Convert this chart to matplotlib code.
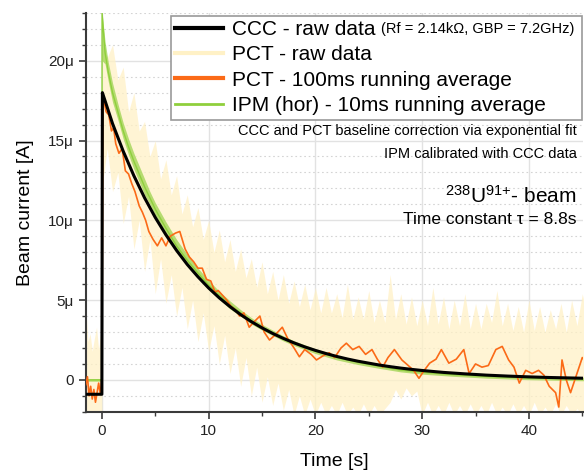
import numpy as np
import matplotlib
matplotlib.use('Agg')
import matplotlib.pyplot as plt
from matplotlib.lines import Line2D
from matplotlib.ticker import MultipleLocator, FuncFormatter

plt.rcParams['font.family'] = ['Liberation Sans', 'DejaVu Sans']
plt.rcParams['mathtext.fontset'] = 'custom'
plt.rcParams['mathtext.rm'] = 'Liberation Sans'
plt.rcParams['mathtext.it'] = 'Liberation Sans:italic'

# all currents in microampere
# CCC raw data
t_ccc = [-1.5, 0.0, 0.05, 1, 2, 3, 4, 5, 6, 7, 8, 9, 10, 11, 12, 13, 14, 15, 16, 17, 18, 19, 20,
         21, 22, 23, 24, 25, 26, 27, 28, 29, 30, 32, 34, 36, 38, 40, 42, 44, 45.5]
ccc = [-0.9, -0.9, 18.0, 16.06, 14.33, 12.79, 11.41, 10.18, 9.09, 8.11, 7.23, 6.46, 5.76, 5.14,
       4.59, 4.09, 3.65, 3.26, 2.91, 2.60, 2.32, 2.07, 1.85, 1.65, 1.47, 1.31, 1.17, 1.05, 0.93,
       0.83, 0.74, 0.66, 0.59, 0.47, 0.38, 0.30, 0.24, 0.19, 0.15, 0.12, 0.10]

# PCT raw data, drawn as its spread (upper / lower edge)
t_raw_pre = [-1.5, -1.3, -1.1, -0.9, -0.7, -0.5, -0.3, -0.1, 0.0]
raw_hi_pre = [4.5, 2.4, 2.9, 1.8, 2.6, 3.3, 1.9, 3.0, 2.0]
raw_lo_pre = [-2.2, -2.2, -2.2, -2.2, -2.2, -2.2, -2.2, -2.2, -2.2]
t_raw = np.arange(0, 45.6, 0.5)
raw_hi = [21.5, 20.2, 21.0, 18.8, 19.6, 16.8, 18.0, 15.6, 16.2, 14.0,
          15.0, 12.6, 13.8, 11.6, 12.8, 10.4, 11.6, 9.6, 10.8, 8.8,
          10.0, 8.0, 9.4, 7.4, 8.8, 6.8, 8.2, 6.4, 7.6, 5.8,
          7.4, 5.4, 6.8, 5.0, 6.6, 4.8, 6.2, 4.6, 6.0, 4.4,
          5.8, 4.2, 5.8, 4.2, 5.4, 3.9, 6.0, 3.8, 5.2, 3.8,
          5.6, 3.6, 5.0, 3.6, 6.6, 3.8, 5.4, 3.5, 5.2, 3.4,
          5.0, 3.4, 5.8, 3.5, 5.2, 3.2, 5.0, 3.4, 5.4, 3.2,
          4.8, 3.2, 4.8, 3.6, 5.6, 3.4, 4.8, 3.1, 4.6, 3.0,
          5.0, 3.1, 4.6, 3.0, 4.4, 3.2, 4.8, 3.0, 5.0, 3.4,
          5.4, 3.8]
raw_lo = [12.0, 14.5, 11.8, 13.0, 9.8, 11.5, 8.2, 10.0, 6.8, 8.8,
          5.4, 7.6, 4.8, 6.6, 4.0, 5.8, 3.2, 5.0, 2.4, 4.2,
          1.8, 3.4, 1.0, 2.8, 0.4, 2.0, -0.4, 1.4, -1.0, 0.8,
          -1.4, 0.2, -1.6, -0.2, -1.9, -0.6, -2.2, -1.0, -2.2, -1.2,
          -2.2, -1.4, -2.2, -1.6, -2.2, -1.4, -2.2, -1.7, -2.2, -1.5,
          -2.2, -1.6, -2.2, -1.8, -1.4, -0.6, -1.2, -0.5, -1.0, -0.7,
          -2.2, -1.4, -2.2, -1.6, -2.2, -1.4, -2.2, -1.6, -2.2, -1.5,
          -2.2, -1.6, -2.2, -1.4, -2.2, -1.7, -2.2, -1.5, -2.2, -1.6,
          -2.2, -1.4, -2.2, -1.7, -2.2, -1.5, -2.2, -1.6, -2.2, -1.8,
          -2.2, -2.0]

# PCT 100ms running average
t_avg = [-1.5, -1.35, -1.2, -1.05, -0.9, -0.75, -0.6, -0.45, -0.3, -0.15, 0.0,
         0.1, 0.4, 0.65, 0.9, 1.1, 1.3, 1.6, 1.9, 2.2, 2.5, 2.8, 3.1, 3.5, 3.8, 4.1, 4.4,
         4.8, 5.2, 5.6, 6.0, 6.4, 6.9, 7.3, 7.8, 8.2, 8.6, 9.0, 9.4, 9.8, 10.2, 10.6,
         10.9, 11.3, 11.7, 12.1, 12.5, 12.9, 13.3, 13.8, 14.2, 14.8, 15.2, 15.7, 16.2,
         16.9, 17.4, 18.0, 18.5, 19.0, 19.6, 20.1, 20.7, 21.3, 21.8, 22.4, 22.9, 23.5,
         24.1, 24.7, 25.3, 25.8, 26.3, 26.8, 27.4, 28.1, 28.7, 29.2, 29.7, 30.2, 30.7,
         31.3, 31.8, 32.5, 33.2, 33.9, 34.4, 35.0, 35.6, 36.2, 36.9, 37.5, 38.1, 38.6,
         39.1, 39.7, 40.3, 40.9, 41.4, 41.9, 42.5, 42.8, 43.1, 43.5, 43.9, 44.4, 45.0, 45.5]
pct_avg = [-0.3, 0.2, -1.0, -0.4, -1.2, -0.6, -1.4, -0.8, -0.2, -0.9, 0.1,
           17.8, 16.8, 16.6, 15.6, 15.8, 14.8, 14.2, 14.5, 13.1, 12.9, 12.3, 11.8, 10.9, 10.5,
           10.0, 9.3, 8.8, 8.4, 8.9, 8.4, 9.0, 9.2, 9.3, 8.2, 7.7, 7.4, 7.0, 7.0, 6.3, 6.2,
           5.5, 5.6, 5.3, 5.0, 4.6, 4.4, 4.0, 4.2, 3.3, 3.6, 4.0, 3.0, 2.5, 2.8, 3.3, 2.6,
           2.0, 1.45, 1.9, 1.6, 1.25, 1.5, 1.7, 1.4, 2.0, 2.3, 1.9, 2.1, 1.6, 1.9, 1.3, 0.8,
           1.4, 1.9, 1.25, 0.9, 0.6, 0.1, 0.6, 1.05, 1.3, 1.9, 1.05, 1.3, 1.9, 0.4, 1.0, 0.8,
           0.9, 1.9, 2.1, 1.25, 0.8, -0.2, 0.6, 0.4, 0.6, 0.3, -0.4, -0.8, -1.7, 1.25, 0.0,
           -0.8, 0.2, 1.4, 1.0]

# IPM (hor) 10ms running average, centre and spread
t_ipm = [-1.5, 0.0, 0.02, 0.3, 0.6, 1, 1.5, 2, 2.5, 3, 3.5, 4, 4.5, 5, 6, 7, 8, 9, 10, 11, 12,
         13, 14, 15, 16, 17, 18, 19, 20, 22, 24, 26, 28, 30, 33, 36, 40, 45.5]
ipm = [0.0, 0.0, 23.0, 20.5, 19.3, 18.0, 16.8, 15.6, 14.6, 13.7, 12.9, 12.1, 11.4, 10.7, 9.5,
       8.4, 7.5, 6.7, 5.95, 5.3, 4.7, 4.2, 3.7, 3.3, 2.95, 2.6, 2.3, 2.05, 1.8, 1.4, 1.1,
       0.85, 0.62, 0.48, 0.33, 0.22, 0.12, 0.05]
ipm_hi = [0.08, 0.08, 23.0, 21.2, 19.9, 18.6, 17.3, 16.1, 15.1, 14.2, 13.4, 12.6, 11.8, 11.1,
          9.9, 8.8, 7.85, 7.0, 6.25, 5.55, 4.95, 4.4, 3.9, 3.48, 3.12, 2.76, 2.45, 2.2, 1.95,
          1.55, 1.24, 0.98, 0.74, 0.6, 0.44, 0.33, 0.23, 0.16]
ipm_lo = [-0.08, -0.08, 20.0, 19.8, 18.7, 17.4, 16.3, 15.1, 14.1, 13.2, 12.4, 11.6, 11.0, 10.3,
          9.1, 8.0, 7.15, 6.4, 5.65, 5.05, 4.45, 4.0, 3.5, 3.12, 2.78, 2.44, 2.15, 1.9, 1.65,
          1.25, 0.96, 0.72, 0.5, 0.36, 0.22, 0.11, 0.01, -0.06]

c_raw = '#fff1c6'
c_avg = '#fb6a17'
c_ipm = '#8fcf3c'

fig = plt.figure(figsize=(5.84, 4.75), dpi=100)
ax = fig.add_axes([0.147, 0.133, 0.851, 0.84])

ax.fill_between(t_raw_pre, raw_lo_pre, raw_hi_pre, color=c_raw, lw=0, alpha=0.75, zorder=2)
ax.fill_between(t_raw, raw_lo, raw_hi, color=c_raw, lw=0, alpha=0.75, zorder=2)
ax.fill_between(t_ipm, ipm_lo, ipm_hi, color=c_ipm, lw=0, alpha=0.65, zorder=3)
ax.plot(t_ipm, ipm, color=c_ipm, lw=1.0, zorder=3)
ax.plot(t_avg, pct_avg, color=c_avg, lw=1.2, zorder=4)
ax.plot(t_ccc, ccc, color='black', lw=2.2, zorder=5)

ax.set_xlim(-1.5, 45.05)
ax.set_ylim(-2, 23)
ax.xaxis.set_major_locator(MultipleLocator(10))
ax.xaxis.set_minor_locator(MultipleLocator(5))
ax.yaxis.set_major_locator(MultipleLocator(5))
ax.yaxis.set_minor_locator(MultipleLocator(1))
ax.yaxis.set_major_formatter(FuncFormatter(lambda v, p: '0' if v == 0 else f'{v:g}μ'))

ax.grid(True, which='major', color='#e2e2e2', lw=1.0, zorder=0)
ax.grid(True, which='minor', axis='y', color='#d4d4d4', lw=0.8, ls=(0, (1.5, 2.5)), zorder=0)
ax.set_axisbelow(True)

for s in ['top', 'right']:
    ax.spines[s].set_visible(False)
for s in ['left', 'bottom']:
    ax.spines[s].set_color('#3a3a3a')
    ax.spines[s].set_linewidth(1.5)
ax.tick_params(which='major', direction='out', length=5, width=1.2, color='#3a3a3a',
               labelsize=11, labelcolor='#222222')
ax.tick_params(which='minor', direction='out', length=3, width=1.0, color='#3a3a3a')

ax.set_xlabel('Time [s]', fontsize=14, labelpad=11)
ax.set_ylabel('Beam current [A]', fontsize=14, labelpad=10)

handles = [Line2D([], [], color='black', lw=3),
           Line2D([], [], color=c_raw, lw=3),
           Line2D([], [], color=c_avg, lw=3),
           Line2D([], [], color=c_ipm, lw=2)]
labels = ['CCC - raw data', 'PCT - raw data', 'PCT - 100ms running average',
          'IPM (hor) - 10ms running average']
leg = ax.legend(handles, labels, loc='upper left', mode='expand',
                bbox_to_anchor=(0.171, 0.0, 0.827, 0.993), fontsize=15,
                fancybox=False, edgecolor='#9a9a9a', framealpha=1,
                handlelength=2.3, handletextpad=0.4, labelspacing=0.3,
                borderpad=0.22, borderaxespad=0)
leg.get_frame().set_linewidth(1.2)
leg.set_zorder(10)

ax.annotate('(Rf = 2.14kΩ, GBP = 7.2GHz)', xy=(1, 0), xycoords=leg.get_texts()[0],
            xytext=(4, 2), textcoords='offset points', fontsize=10.5,
            ha='left', va='bottom', zorder=11)

ax.text(0.988, 0.704, 'CCC and PCT baseline correction via exponential fit',
        transform=ax.transAxes, ha='right', va='center', fontsize=10.5)
ax.text(0.988, 0.647, 'IPM calibrated with CCC data',
        transform=ax.transAxes, ha='right', va='center', fontsize=10.5)
ax.text(0.988, 0.541, r'$^{238}$U$^{91{+}}$- beam',
        transform=ax.transAxes, ha='right', va='center', fontsize=15)
ax.text(0.988, 0.481, 'Time constant τ = 8.8s',
        transform=ax.transAxes, ha='right', va='center', fontsize=12.5)

fig.savefig('out.png', dpi=100)
